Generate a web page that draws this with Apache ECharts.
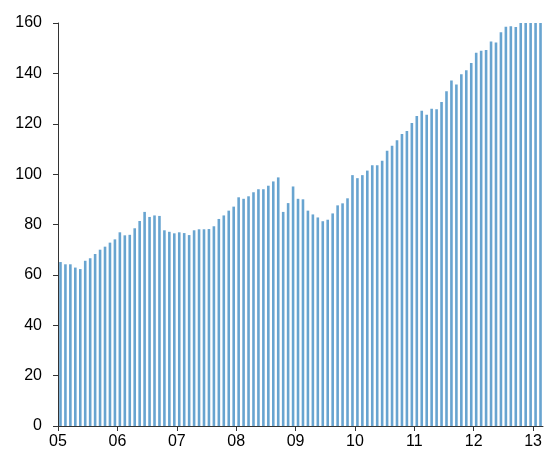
<!DOCTYPE html>
<html>
<head>
<meta charset="utf-8">
<script src="https://cdn.jsdelivr.net/npm/echarts@6/dist/echarts.min.js"></script>
<style>
  html, body { margin: 0; padding: 0; background: #fff; }
  #chart { width: 547px; height: 453px; }
</style>
</head>
<body>
<div id="chart"></div>
<script>
// year tick labels, one every 12 months
const yearLabels = ['05', '06', '07', '08', '09', '10', '11', '12', '13'];
const yTicks = [0, 20, 40, 60, 80, 100, 120, 140, 160];

// monthly values, Jan 2005 .. Feb 2013
const values = [
  65.1, 64.2, 64.2, 62.9, 62.3, 65.6, 66.6, 68.3, 70.0, 71.2, 72.8, 74.1,
  76.9, 75.7, 75.9, 78.5, 81.4, 85.0, 83.0, 83.6, 83.4, 77.7, 77.1, 76.5,
  76.9, 76.6, 75.8, 77.7, 78.1, 78.1, 78.2, 79.3, 82.2, 83.6, 85.5, 87.1,
  90.8, 90.2, 91.2, 92.8, 94.0, 94.0, 95.4, 97.1, 98.7, 85.0, 88.5, 95.1,
  90.2, 90.0, 85.5, 84.0, 82.8, 81.3, 81.9, 84.4, 87.6, 88.4, 90.4, 99.6,
  98.4, 99.6, 101.4, 103.5, 103.5, 105.3, 109.3, 111.3, 113.4, 115.9, 117.1, 120.3,
  123.1, 125.2, 123.6, 126.0, 125.8, 128.6, 132.9, 137.2, 135.6, 139.7, 141.2, 144.1,
  148.2, 149.0, 149.3, 152.7, 152.3, 156.3, 158.5, 158.7, 158.4, 160, 160, 160,
  160, 160
];

// month categories
const months = [];
for (let i = 0; i < values.length; i++) {
  months.push((2005 + Math.floor(i / 12)) + '-' + (i % 12 + 1));
}
const yearTickPos = yearLabels.map((_, i) => i * 12);

const font = 'Liberation Sans, Arial, sans-serif';
const axisColor = '#333';

const chart = echarts.init(document.getElementById('chart'));
chart.setOption({
  animation: false,
  grid: { left: 58, right: 4, top: 23, bottom: 27 },
  xAxis: [
    {
      type: 'category',
      data: months,
      boundaryGap: true,
      axisLine: { show: false },
      axisTick: { show: false },
      axisLabel: { show: false },
      splitLine: { show: false }
    },
    {
      type: 'value',
      position: 'bottom',
      min: 0,
      max: values.length,
      axisLine: { show: true, lineStyle: { color: axisColor, width: 1 } },
      axisTick: { show: true, length: 5, customValues: yearTickPos, lineStyle: { color: axisColor } },
      axisLabel: {
        customValues: yearTickPos,
        formatter: v => yearLabels[Math.round(v / 12)] || '',
        color: '#000',
        fontSize: 16,
        fontFamily: font,
        margin: 8
      },
      splitLine: { show: false }
    }
  ],
  yAxis: {
    type: 'value',
    min: 0,
    max: 160,
    interval: 20,
    axisLine: { show: true, lineStyle: { color: axisColor, width: 1 } },
    axisTick: { show: true, inside: false, length: 5, lineStyle: { color: axisColor } },
    axisLabel: { color: '#000', fontSize: 16, fontFamily: font, margin: 16 },
    splitLine: { show: false }
  },
  series: [{
    type: 'bar',
    xAxisIndex: 0,
    data: values,
    barWidth: 2.6,
    itemStyle: { color: '#68a4d0' },
    clip: true
  }]
});
</script>
</body>
</html>
